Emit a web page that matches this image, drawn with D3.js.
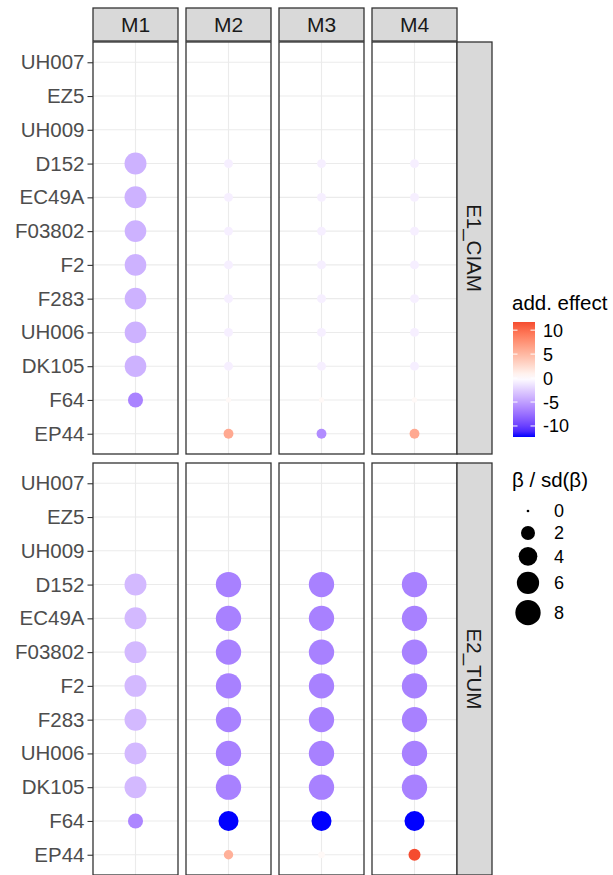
<!DOCTYPE html>
<html>
<head>
<meta charset="utf-8">
<script src="https://cdn.jsdelivr.net/npm/d3@7"></script>
<style>
  html, body { margin: 0; padding: 0; background: #fff; }
  svg { display: block; font-family: "Liberation Sans", Arial, sans-serif; }
</style>
</head>
<body>
<svg id="chart" width="613" height="875"></svg>
<script>
// ---------------- data ----------------
const samples = ["UH007", "EZ5", "UH009", "D152", "EC49A", "F03802", "F2", "F283", "UH006", "DK105", "F64", "EP44"];
const models = ["M1", "M2", "M3", "M4"];
const facets = ["E1_CIAM", "E2_TUM"];

// additive effect per facet / model, in sample order (null = no point)
const effE1M1 = [null, null, null, -4.0, -4.0, -4.0, -4.0, -4.0, -4.0, -4.0, -6.5, null];
const effE1M2 = [null, null, null, -0.8, -0.8, -0.8, -0.8, -0.8, -0.8, -0.8, 0.4, 6.0];
const effE1M3 = [null, null, null, -0.8, -0.8, -0.8, -0.8, -0.8, -0.8, -0.8, 0.4, -6.0];
const effE1M4 = [null, null, null, -0.8, -0.8, -0.8, -0.8, -0.8, -0.8, -0.8, 0.4, 6.0];
const effE2M1 = [null, null, null, -3.6, -3.6, -3.6, -3.6, -3.6, -3.6, -3.6, -6.3, null];
const effE2M2 = [null, null, null, -6.6, -6.6, -6.6, -6.6, -6.6, -6.6, -6.6, -12.3, 5.5];
const effE2M3 = [null, null, null, -6.6, -6.6, -6.6, -6.6, -6.6, -6.6, -6.6, -12.3, 0.4];
const effE2M4 = [null, null, null, -6.6, -6.6, -6.6, -6.6, -6.6, -6.6, -6.6, -12.3, 11.7];

// beta / sd(beta) per facet / model, in sample order
const zE1M1 = [null, null, null, 5.8, 5.8, 5.6, 5.6, 5.6, 5.6, 5.6, 2.4, null];
const zE1M2 = [null, null, null, 0.6, 0.6, 0.6, 0.6, 0.6, 0.6, 0.6, 0.1, 0.8];
const zE1M3 = [null, null, null, 0.6, 0.6, 0.6, 0.6, 0.6, 0.6, 0.6, 0.1, 0.8];
const zE1M4 = [null, null, null, 0.6, 0.6, 0.6, 0.6, 0.6, 0.6, 0.6, 0.1, 0.8];
const zE2M1 = [null, null, null, 5.8, 5.8, 5.8, 5.8, 5.8, 5.8, 5.8, 2.4, null];
const zE2M2 = [null, null, null, 8.0, 8.0, 8.0, 8.0, 8.0, 8.0, 8.0, 4.7, 0.7];
const zE2M3 = [null, null, null, 8.0, 8.0, 8.0, 8.0, 8.0, 8.0, 8.0, 4.7, 0.25];
const zE2M4 = [null, null, null, 8.0, 8.0, 8.0, 8.0, 8.0, 8.0, 8.0, 4.7, 1.35];

const colorBreaks = [10, 5, 0, -5, -10];
const sizeBreaks = [0, 2, 4, 6, 8];
const effectRange = [-12.3, 11.7];
const zMax = 9;

const effTable = {
  E1_CIAM: { M1: effE1M1, M2: effE1M2, M3: effE1M3, M4: effE1M4 },
  E2_TUM:  { M1: effE2M1, M2: effE2M2, M3: effE2M3, M4: effE2M4 }
};
const zTable = {
  E1_CIAM: { M1: zE1M1, M2: zE1M2, M3: zE1M3, M4: zE1M4 },
  E2_TUM:  { M1: zE2M1, M2: zE2M2, M3: zE2M3, M4: zE2M4 }
};

const points = [];
facets.forEach(f => models.forEach(m => samples.forEach((s, i) => {
  const e = effTable[f][m][i], z = zTable[f][m][i];
  if (e !== null && z !== null) points.push({ facet: f, model: m, sample: s, effect: e, z: z });
})));

// ---------------- layout ----------------
const svg = d3.select("#chart");
const panelLeft = 93, panelW = 85, gapX = 8;
const stripTop = 8, stripH = 33;
const panelTop0 = 42, panelH = 412, gapY = 9;
const rStripW = 35;

const colX = m => panelLeft + models.indexOf(m) * (panelW + gapX);
const rowY = f => panelTop0 + facets.indexOf(f) * (panelH + gapY);

const xInner = d3.scalePoint().domain(["c"]).range([0, panelW]).padding(0.5);
const y = d3.scalePoint().domain(samples).range([0, panelH]).padding(0.6);

const color = d3.scaleLinear()
  .domain([-12.3, 0, 12.3])
  .range(["#0000FF", "#FFFFFF", "#F23F26"])
  .interpolate(d3.interpolateLab)
  .clamp(true);
const size = d3.scalePow().exponent(0.5).domain([0, zMax]).range([2.7, 26.7]);

const border = "#333333";
const grid = "#EBEBEB";

// panels
facets.forEach(f => {
  models.forEach(m => {
    const g = svg.append("g").attr("transform", `translate(${colX(m)},${rowY(f)})`);
    g.append("rect").attr("width", panelW).attr("height", panelH).attr("fill", "#fff");
    g.selectAll("line.h").data(samples).join("line")
      .attr("x1", 0).attr("x2", panelW)
      .attr("y1", d => y(d)).attr("y2", d => y(d))
      .attr("stroke", grid).attr("stroke-width", 1.1);
    g.append("line")
      .attr("x1", xInner("c")).attr("x2", xInner("c"))
      .attr("y1", 0).attr("y2", panelH)
      .attr("stroke", grid).attr("stroke-width", 1.1);
    const pts = points.filter(p => p.facet === f && p.model === m);
    g.selectAll("circle").data(pts).join("circle")
      .attr("cx", xInner("c"))
      .attr("cy", d => y(d.sample))
      .attr("r", d => size(d.z) / 2)
      .attr("fill", d => color(d.effect));
    g.append("rect").attr("width", panelW).attr("height", panelH)
      .attr("fill", "none").attr("stroke", border).attr("stroke-width", 1.3);
  });

  // y axis on left panels
  const ax = svg.append("g").attr("transform", `translate(${panelLeft},${rowY(f)})`)
    .call(d3.axisLeft(y).tickSize(5.5).tickPadding(3));
  ax.select(".domain").remove();
  ax.selectAll(".tick line").attr("stroke", border).attr("stroke-width", 1.1);
  ax.selectAll(".tick text").attr("fill", "#4D4D4D").style("font-size", "20.5px")
    .style("font-family", "'Liberation Sans', Arial, sans-serif");

  // right strip
  const rs = svg.append("g").attr("transform", `translate(${panelLeft + 4 * panelW + 3 * gapX},${rowY(f)})`);
  rs.append("rect").attr("width", rStripW).attr("height", panelH)
    .attr("fill", "#D9D9D9").attr("stroke", border).attr("stroke-width", 1.3);
  rs.append("text")
    .attr("transform", `translate(${rStripW / 2},${panelH / 2}) rotate(90)`)
    .attr("text-anchor", "middle").attr("dy", "0.35em")
    .attr("fill", "#1A1A1A").style("font-size", "20.5px")
    .text(f);
});

// top strips
models.forEach(m => {
  const g = svg.append("g").attr("transform", `translate(${colX(m)},${stripTop})`);
  g.append("rect").attr("width", panelW).attr("height", stripH)
    .attr("fill", "#D9D9D9").attr("stroke", border).attr("stroke-width", 1.3);
  g.append("text").attr("x", panelW / 2).attr("y", stripH / 2).attr("dy", "0.36em")
    .attr("text-anchor", "middle").attr("fill", "#1A1A1A").style("font-size", "21px")
    .text(m);
});

// ---------------- colour legend ----------------
const lg = svg.append("g");
lg.append("text").attr("x", 512).attr("y", 310).style("font-size", "20.5px").attr("fill", "#000")
  .text("add. effect");
const barX = 513, barW = 22, barTop = 322, barBot = 437;
const cy = d3.scaleLinear().domain(effectRange).range([barBot, barTop]);
const defs = svg.append("defs");
const grad = defs.append("linearGradient").attr("id", "cbar")
  .attr("x1", 0).attr("y1", 1).attr("x2", 0).attr("y2", 0);
d3.range(0, 1.0001, 0.05).forEach(t => {
  const v = effectRange[0] + t * (effectRange[1] - effectRange[0]);
  grad.append("stop").attr("offset", t).attr("stop-color", color(v));
});
lg.append("rect").attr("x", barX).attr("y", barTop).attr("width", barW).attr("height", barBot - barTop)
  .attr("fill", "url(#cbar)");
colorBreaks.forEach(b => {
  lg.append("line").attr("x1", barX).attr("x2", barX + 4.5).attr("y1", cy(b)).attr("y2", cy(b))
    .attr("stroke", "#fff").attr("stroke-width", 1);
  lg.append("line").attr("x1", barX + barW - 4.5).attr("x2", barX + barW).attr("y1", cy(b)).attr("y2", cy(b))
    .attr("stroke", "#fff").attr("stroke-width", 1);
  lg.append("text").attr("x", barX + barW + 8).attr("y", cy(b)).attr("dy", "0.36em")
    .style("font-size", "18px").attr("fill", "#000").text(b);
});

// ---------------- size legend ----------------
const sg = svg.append("g");
sg.append("text").attr("x", 512).attr("y", 487).style("font-size", "20.5px").attr("fill", "#000")
  .text("β / sd(β)");
let yy = 500;
sizeBreaks.forEach((b, i) => {
  const d = size(b);
  const kh = Math.max(22, d + 6);
  const c = yy + kh / 2;
  sg.append("circle").attr("cx", 528).attr("cy", c).attr("r", d / 2).attr("fill", "#000");
  sg.append("text").attr("x", 554).attr("y", c).attr("dy", "0.36em")
    .style("font-size", "18px").attr("fill", "#000").text(b);
  yy += kh;
});
</script>
</body>
</html>
